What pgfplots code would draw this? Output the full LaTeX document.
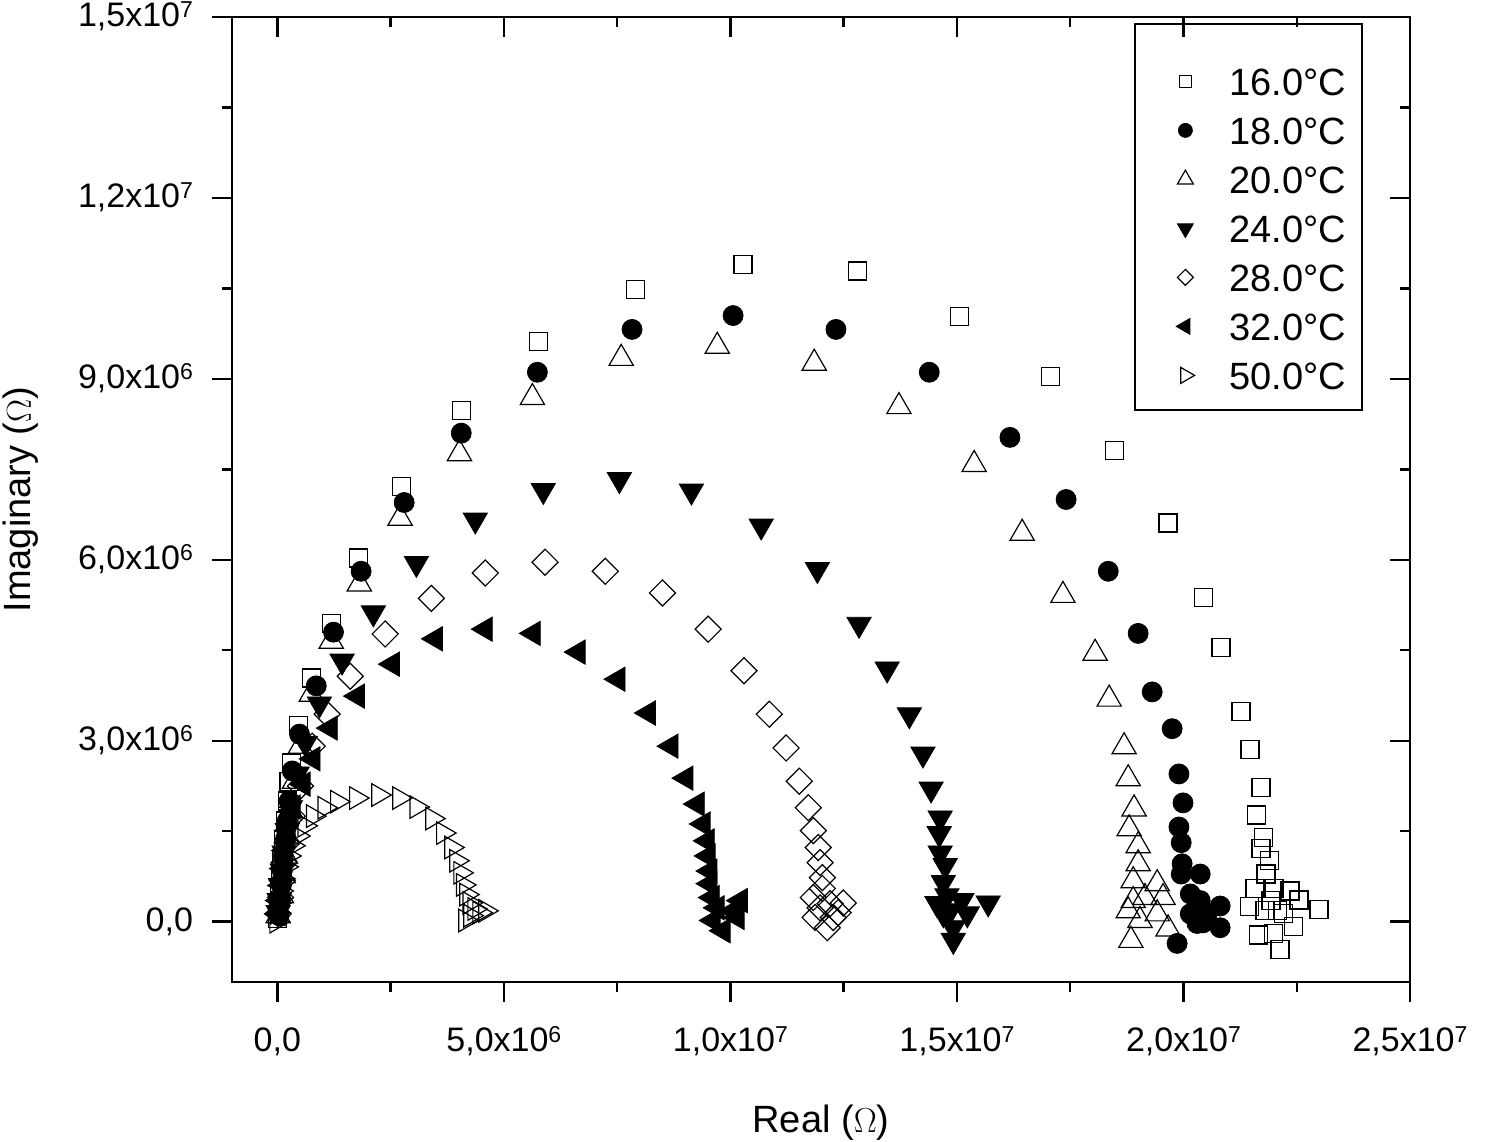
\documentclass[border=0pt]{standalone}
\usepackage{fontspec}
\setmainfont{Liberation Sans}
\usepackage{pgfplots}
\pgfplotsset{compat=1.18}
\newcommand\sups[1]{\smash{\raisebox{4.6pt}{\fontsize{11.5}{12}\selectfont #1}}}
\begin{document}
\begin{tikzpicture}
\pgfplotsset{
  base/.style={
    scale only axis, width=589pt, height=482.5pt,
    xmin=-1, xmax=25, ymin=-1, ymax=15,
    xtick={0,5,10,15,20,25}, ytick={0,3,6,9,12,15},
    minor x tick num=1, minor y tick num=1,
    axis line style={line width=1.2pt},
    major tick length=10pt, minor tick length=5pt,
    tick style={black, line width=1.2pt},
    ticklabel style={font=\fontsize{17}{20}\selectfont},
    label style={font=\fontsize{19}{22}\selectfont},
  }
}
\begin{axis}[base, name=main, tick align=outside, xtick pos=left, ytick pos=left,
  xticklabels={{0,0},{5,0x10\sups{6}},{1,0x10\sups{7}},{1,5x10\sups{7}},{2,0x10\sups{7}},{2,5x10\sups{7}}},
  yticklabels={{0,0},{3,0x10\sups{6}},{6,0x10\sups{6}},{9,0x10\sups{6}},{1,2x10\sups{7}},{1,5x10\sups{7}}},
  xticklabel style={yshift=-9.5pt},
  yticklabel style={xshift=-6pt},
  xlabel={Real ($\Omega$)}, ylabel={Imaginary ($\Omega$)},
  xlabel style={at={(axis description cs:0.5,-0.146)}, anchor=center},
  ylabel style={at={(axis description cs:-0.179,0.5)}, anchor=center, rotate=0},
  legend image code/.code={\path[draw=none,fill=none] (-10pt,-5pt) rectangle (10pt,5pt); \draw[#1] plot coordinates {(0pt,0pt)};},
  legend cell align=left,
  legend style={at={(axis description cs:0.792,0.9482)}, anchor=north west, draw=none, fill=none,
    inner sep=0pt, row sep=10.5pt, column sep=12pt,
    font=\fontsize{19}{22}\selectfont,
    nodes={inner sep=0pt, text height=14pt, text depth=0pt}},
]
% 16.0 C
\addplot[only marks, mark=square, mark size=4.5pt, mark options={draw=black, fill=white, line width=0.6pt}, forget plot] coordinates {
(0,0.05) (0.02,0.26) (0.04,0.51) (0.07,0.76) (0.09,1.04) (0.13,1.34) (0.18,1.67) (0.22,2.00) (0.26,2.33) (0.31,2.63)
(0.46,3.25) (0.75,4.04) (1.19,4.95) (1.79,6.03) (2.74,7.22) (4.06,8.48) (5.76,9.62) (7.90,10.48) (10.28,10.89) (12.80,10.79)
(15.05,10.03) (17.06,9.04) (18.47,7.81) (19.66,6.61) (20.45,5.38) (20.83,4.54) (21.27,3.48) (21.47,2.85) (21.71,2.22) (21.62,1.77)
(21.76,1.39) (21.71,1.21) (21.89,1.01) (21.82,0.79) (21.58,0.55) (22.00,0.55) (22.35,0.51) (22.55,0.36) (22.99,0.20) (21.45,0.25)
(21.93,0.35) (22.20,0.13) (22.42,-0.08) (21.98,-0.20) (21.65,-0.22) (22.13,-0.46) (21.80,0.18) (22.07,0.18)
};
% 18.0 C
\addplot[only marks, mark=*, mark size=5pt, mark options={draw=black, fill=black}, forget plot] coordinates {
(0.04,0.10) (0.07,0.35) (0.09,0.60) (0.11,0.84) (0.13,1.09) (0.18,1.37) (0.22,1.67) (0.26,2.00) (0.33,2.50) (0.49,3.11)
(0.86,3.91) (1.24,4.80) (1.85,5.81) (2.80,6.95) (4.06,8.10) (5.74,9.11) (7.83,9.82) (10.06,10.05) (12.33,9.82) (14.39,9.11)
(16.17,8.03) (17.41,7.00) (18.34,5.81) (19.00,4.78) (19.31,3.81) (19.75,3.20) (19.90,2.45) (19.99,1.97) (19.90,1.57) (19.95,1.31)
(19.97,0.96) (19.95,0.79) (20.37,0.79) (20.15,0.46) (20.37,0.35) (20.81,0.26) (20.15,0.13) (20.52,0.13) (20.81,-0.10) (20.30,-0.03)
(19.86,-0.36) (20.43,-0.02)
};
% 20.0 C
\addplot[only marks, mark=triangle, mark size=7pt, mark options={draw=black, fill=white, line width=0.6pt}, forget plot] coordinates {
(0.02,0.10) (0.09,0.43) (0.13,0.76) (0.18,1.09) (0.22,1.42) (0.29,1.84) (0.38,2.33) (0.51,2.91) (0.75,3.77) (1.19,4.65)
(1.81,5.60) (2.71,6.69) (4.02,7.76) (5.63,8.69) (7.59,9.34) (9.71,9.54) (11.85,9.26) (13.72,8.54) (15.38,7.58) (16.44,6.44)
(17.34,5.41) (18.05,4.45) (18.36,3.69) (18.69,2.90) (18.78,2.37) (18.91,1.87) (18.80,1.54) (19.00,1.26) (19.00,0.96) (18.89,0.68)
(19.42,0.63) (19.15,0.40) (19.55,0.40) (18.78,0.18) (19.42,0.13) (19.04,0.02) (19.66,-0.12) (18.84,-0.31) (18.89,0.35)
};
% 24.0 C
\addplot[only marks, mark=triangle*, mark size=7pt, mark options={draw=black, fill=black, rotate=180}, forget plot] coordinates {
(0.02,0.15) (0.04,0.35) (0.07,0.60) (0.11,0.84) (0.15,1.14) (0.22,1.51) (0.29,1.89) (0.44,2.45) (0.62,2.96) (0.93,3.61)
(1.43,4.32) (2.12,5.12) (3.07,5.94) (4.37,6.66) (5.87,7.15) (7.55,7.33) (9.14,7.14) (10.68,6.56) (11.92,5.84) (12.84,4.93)
(13.46,4.19) (13.95,3.43) (14.25,2.78) (14.43,2.20) (14.63,1.72) (14.61,1.46) (14.63,1.14) (14.74,0.93) (14.70,0.65) (14.78,0.43)
(15.11,0.35) (15.69,0.31) (14.85,0.18) (15.23,0.13) (14.92,-0.10) (14.70,0.13) (14.92,-0.31) (14.56,0.30)
};
% 28.0 C
\addplot[only marks, mark=square, mark size=4.6pt, mark options={draw=black, fill=white, line width=0.6pt, rotate=45}, forget plot] coordinates {
(0.02,0.13) (0.07,0.40) (0.11,0.68) (0.15,0.98) (0.22,1.31) (0.33,1.75) (0.51,2.25) (0.77,2.91) (1.10,3.44) (1.61,4.07)
(2.38,4.77) (3.40,5.36) (4.59,5.78) (5.91,5.96) (7.24,5.81) (8.50,5.45) (9.51,4.85) (10.30,4.16) (10.86,3.44) (11.23,2.88)
(11.52,2.33) (11.72,1.89) (11.83,1.51) (11.94,1.23) (11.98,0.98) (12.03,0.73) (12.03,0.55) (12.49,0.31) (11.83,0.40) (12.20,0.30)
(11.87,0.07) (12.27,0.07) (12.14,-0.10) (12.38,0.15) (11.98,0.23)
};
% 32.0 C
\addplot[only marks, mark=triangle*, mark size=7pt, mark options={draw=black, fill=black, rotate=90}, forget plot] coordinates {
(0.02,0.13) (0.04,0.35) (0.09,0.60) (0.13,0.88) (0.18,1.18) (0.24,1.51) (0.35,1.90) (0.57,2.28) (0.79,2.70) (1.17,3.21)
(1.77,3.74) (2.54,4.27) (3.49,4.69) (4.59,4.85) (5.65,4.78) (6.64,4.47) (7.52,4.02) (8.19,3.46) (8.69,2.91) (9.02,2.38)
(9.27,1.95) (9.40,1.62) (9.49,1.34) (9.51,1.09) (9.55,0.84) (9.55,0.63) (9.60,0.40) (10.22,0.35) (10.06,0.18) (9.62,0.02)
(9.84,-0.15) (10.15,0.07) (9.71,0.23)
};
% 50.0 C
\addplot[only marks, mark=triangle, mark size=6.5pt, mark options={draw=black, fill=white, line width=0.6pt, rotate=-90}, forget plot] coordinates {
(-0.02,0.00) (0.00,0.15) (0.02,0.31) (0.07,0.51) (0.11,0.71) (0.18,0.91) (0.24,1.09) (0.33,1.26) (0.44,1.42) (0.60,1.59)
(0.79,1.75) (1.04,1.89) (1.32,1.99) (1.74,2.05) (2.23,2.10) (2.69,2.05) (3.07,1.90) (3.42,1.71) (3.66,1.47) (3.84,1.23)
(3.95,1.01) (4.04,0.81) (4.10,0.61) (4.17,0.45) (4.24,0.31) (4.35,0.21) (4.46,0.15) (4.59,0.18) (4.26,0.10) (4.15,0.02)
};
\addlegendimage{mark=square, mark size=3pt, mark options={draw=black, fill=white, line width=0.6pt}}
\addlegendentry{16.0°C}
\addlegendimage{mark=*, mark size=3.5pt, mark options={draw=black, fill=black}}
\addlegendentry{18.0°C}
\addlegendimage{mark=triangle, mark size=4.6pt, mark options={draw=black, fill=white, line width=0.6pt}}
\addlegendentry{20.0°C}
\addlegendimage{mark=triangle*, mark size=4.6pt, mark options={draw=black, fill=black, rotate=180}}
\addlegendentry{24.0°C}
\addlegendimage{mark=square, mark size=2.8pt, mark options={draw=black, fill=white, line width=0.6pt, rotate=45}}
\addlegendentry{28.0°C}
\addlegendimage{mark=triangle*, mark size=4.6pt, mark options={draw=black, fill=black, rotate=90}}
\addlegendentry{32.0°C}
\addlegendimage{mark=triangle, mark size=4.6pt, mark options={draw=black, fill=white, line width=0.6pt, rotate=-90}}
\addlegendentry{50.0°C}
\draw[line width=1pt, black] (axis description cs:0.7666,0.9927) rectangle (axis description cs:0.9593,0.5927);
\end{axis}
\begin{axis}[base, tick align=inside, xtick pos=right, ytick pos=right,
  xticklabels={}, yticklabels={}]
\end{axis}
\pgfresetboundingbox
\path[use as bounding box] ([xshift=-116pt,yshift=-79.5pt]main.south west) rectangle ([xshift=39pt,yshift=8.5pt]main.north east);
\end{tikzpicture}
\end{document}
